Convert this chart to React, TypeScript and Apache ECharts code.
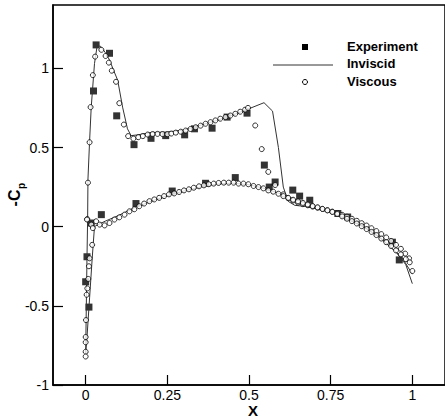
import React, { useEffect, useRef } from "react";
import * as echarts from "echarts";

const xTicks = [0, 0.25, 0.5, 0.75, 1];
const yTicks = [-1, -0.5, 0, 0.5, 1];

// Inviscid solution, traced lower surface TE -> LE, then upper surface LE -> TE
const inviscidLower: [number, number][] = [
  [1.0, -0.3], [0.97, -0.2], [0.95, -0.16], [0.9, -0.065], [0.85, 0.0], [0.8, 0.05],
  [0.75, 0.095], [0.7, 0.13], [0.65, 0.165], [0.6, 0.205], [0.55, 0.24], [0.5, 0.265],
  [0.45, 0.275], [0.4, 0.268], [0.35, 0.25], [0.3, 0.225], [0.25, 0.195], [0.2, 0.16],
  [0.15, 0.12], [0.1, 0.07], [0.06, 0.035], [0.035, 0.01], [0.027, 0.0], [0.02, -0.2],
  [0.012, -0.45], [0.004, -0.7], [0.0, -0.8],
];
const inviscidUpper: [number, number][] = [
  [0.0, -0.8], [0.002, -0.5], [0.004, -0.2], [0.006, 0.05], [0.007, 0.3], [0.012, 0.54],
  [0.017, 0.755], [0.027, 1.03], [0.035, 1.14], [0.045, 1.14], [0.06, 1.1], [0.073, 1.053],
  [0.085, 0.99], [0.098, 0.925], [0.113, 0.755], [0.128, 0.618], [0.139, 0.575],
  [0.16, 0.58], [0.2, 0.595], [0.25, 0.598], [0.3, 0.61], [0.35, 0.64], [0.4, 0.67],
  [0.45, 0.705], [0.5, 0.745], [0.546, 0.783], [0.572, 0.73], [0.59, 0.5], [0.605, 0.25],
  [0.62, 0.16], [0.64, 0.135], [0.67, 0.128], [0.7, 0.115], [0.75, 0.09], [0.8, 0.05],
  [0.85, 0.0], [0.9, -0.07], [0.95, -0.16], [0.98, -0.24], [1.0, -0.36],
];

// Viscous solution (circles)
const viscousLeadingEdge: [number, number][] = [
  [0.005, 0.048], [0.017, 0.013], [0.022, -0.009], [0.02, -0.115], [0.012, -0.2],
  [0.01, -0.25], [0.008, -0.33], [0.005, -0.39], [0.003, -0.43], [0.001, -0.59],
  [0.0, -0.697], [0.0, -0.73], [0.0, -0.79], [0.0, -0.82],
];
const viscousUpper: [number, number][] = [
  [0.004, 0.045], [0.007, 0.278], [0.012, 0.533], [0.015, 0.755], [0.022, 0.957],
  [0.029, 1.074], [0.048, 1.117], [0.061, 1.078], [0.071, 1.036], [0.08, 0.985],
  [0.093, 0.915], [0.103, 0.78], [0.117, 0.645], [0.13, 0.572], [0.146, 0.556],
  [0.161, 0.565], [0.175, 0.572], [0.19, 0.582], [0.205, 0.585], [0.22, 0.586],
  [0.235, 0.585], [0.25, 0.584], [0.262, 0.588], [0.276, 0.594], [0.291, 0.6],
  [0.306, 0.607], [0.321, 0.617], [0.337, 0.628], [0.352, 0.638], [0.367, 0.65],
  [0.382, 0.66], [0.397, 0.671], [0.412, 0.682], [0.428, 0.692], [0.443, 0.702],
  [0.458, 0.713], [0.473, 0.726], [0.488, 0.739], [0.497, 0.75], [0.519, 0.639],
  [0.539, 0.49], [0.559, 0.346], [0.58, 0.263], [0.605, 0.204], [0.62, 0.18],
  [0.635, 0.165], [0.65, 0.152], [0.665, 0.142], [0.68, 0.135], [0.695, 0.127],
  [0.71, 0.12], [0.725, 0.112], [0.74, 0.104], [0.755, 0.095], [0.77, 0.086],
  [0.785, 0.075], [0.8, 0.063], [0.815, 0.05], [0.83, 0.037], [0.845, 0.022],
  [0.86, 0.007], [0.875, -0.01], [0.89, -0.028], [0.905, -0.047], [0.92, -0.068],
  [0.935, -0.09], [0.95, -0.115], [0.965, -0.14], [0.978, -0.17], [0.99, -0.2],
];
const viscousLower: [number, number][] = [
  [0.032, 0.034], [0.043, 0.013], [0.058, 0.008], [0.073, 0.023], [0.088, 0.045],
  [0.103, 0.059], [0.119, 0.076], [0.134, 0.097], [0.149, 0.11], [0.164, 0.129],
  [0.179, 0.146], [0.195, 0.161], [0.21, 0.172], [0.225, 0.182], [0.24, 0.193],
  [0.255, 0.204], [0.271, 0.21], [0.286, 0.219], [0.301, 0.229], [0.316, 0.236],
  [0.331, 0.246], [0.347, 0.255], [0.362, 0.261], [0.377, 0.268], [0.392, 0.272],
  [0.407, 0.276], [0.423, 0.278], [0.438, 0.278], [0.453, 0.278], [0.468, 0.272],
  [0.483, 0.272], [0.498, 0.268], [0.514, 0.257], [0.529, 0.25], [0.544, 0.242],
  [0.559, 0.229], [0.574, 0.221], [0.59, 0.208], [0.605, 0.193], [0.62, 0.182],
  [0.635, 0.17], [0.65, 0.16], [0.665, 0.15], [0.68, 0.14], [0.695, 0.13],
  [0.71, 0.122], [0.725, 0.112], [0.74, 0.103], [0.755, 0.093], [0.77, 0.08],
  [0.785, 0.065], [0.8, 0.05], [0.815, 0.035], [0.83, 0.02], [0.845, 0.003],
  [0.86, -0.015], [0.875, -0.033], [0.89, -0.053], [0.905, -0.075], [0.92, -0.098],
  [0.935, -0.122], [0.95, -0.15], [0.965, -0.175], [0.98, -0.205], [0.992, -0.225],
  [1.0, -0.28],
];

// Experiment (filled squares)
const experiment: [number, number][] = [
  [0.032, 1.148], [0.073, 1.095], [0.024, 0.857], [0.095, 0.7], [0.148, 0.518],
  [0.2, 0.558], [0.245, 0.575], [0.303, 0.58], [0.333, 0.618], [0.387, 0.622],
  [0.433, 0.692], [0.494, 0.717], [0.547, 0.389], [0.562, 0.25], [0.58, 0.282],
  [0.634, 0.231], [0.655, 0.193], [0.686, 0.167], [0.772, 0.083], [0.802, 0.061],
  [0.939, -0.098], [0.96, -0.21], [0.048, 0.076], [0.154, 0.146], [0.265, 0.225],
  [0.367, 0.274], [0.458, 0.31], [0.017, 0.023], [0.004, -0.19], [0.0, -0.348],
  [0.01, -0.508],
];

const FONT = "'Liberation Sans', Arial, sans-serif";

export default function App() {
  const ref = useRef<HTMLDivElement>(null);
  useEffect(() => {
    if (!ref.current) return;
    const chart = echarts.init(ref.current, null, { renderer: "svg" });
    chart.setOption({
      animation: false,
      backgroundColor: "#fff",
      grid: {
        left: 53,
        top: 5,
        width: 395,
        height: 380,
        show: true,
        borderColor: "#000",
        borderWidth: 1.5,
      },
      xAxis: {
        type: "value",
        min: -0.1,
        max: 1.1,
        axisLine: { onZero: false, lineStyle: { color: "#000", width: 1.5 } },
        axisTick: { inside: true, length: 10, customValues: xTicks, lineStyle: { color: "#000", width: 1.2 } },
        axisLabel: {
          customValues: xTicks,
          color: "#000",
          fontSize: 14,
          fontFamily: FONT,
          margin: 3,
          formatter: (v: number) => String(v),
        },
        splitLine: { show: false },
      },
      yAxis: {
        type: "value",
        min: -1,
        max: 1.4,
        axisLine: { onZero: false, lineStyle: { color: "#000", width: 1.5 } },
        axisTick: { inside: true, length: 10, customValues: yTicks, lineStyle: { color: "#000", width: 1.2 } },
        axisLabel: {
          customValues: yTicks,
          color: "#000",
          fontSize: 14,
          fontFamily: FONT,
          margin: 4,
          formatter: (v: number) => String(v),
        },
        splitLine: { show: false },
      },
      series: [
        {
          name: "Experiment",
          type: "scatter",
          data: experiment,
          symbol: "rect",
          symbolSize: 7,
          itemStyle: { color: "#000" },
          z: 2,
        },
        {
          name: "Inviscid",
          type: "line",
          data: [...inviscidLower, ...inviscidUpper],
          showSymbol: false,
          symbol: "none",
          lineStyle: { color: "#333", width: 1 },
          z: 3,
        },
        {
          name: "Viscous",
          type: "scatter",
          data: [...viscousLeadingEdge, ...viscousUpper, ...viscousLower],
          symbol: "circle",
          symbolSize: 5,
          itemStyle: { color: "#fff", borderColor: "#000", borderWidth: 1 },
          z: 4,
        },
      ],
      graphic: [
        { type: "rect", shape: { x: 302, y: 44, width: 6, height: 6 }, style: { fill: "#000" } },
        { type: "line", shape: { x1: 273, y1: 65, x2: 333, y2: 65 }, style: { stroke: "#333", lineWidth: 1 } },
        { type: "circle", shape: { cx: 305, cy: 82, r: 2.5 }, style: { fill: "#fff", stroke: "#000", lineWidth: 1 } },
        { type: "text", x: 347, y: 46, style: { text: "Experiment", fill: "#000", font: `bold 13px ${FONT}`, textVerticalAlign: "middle" } },
        { type: "text", x: 347, y: 63, style: { text: "Inviscid", fill: "#000", font: `bold 13px ${FONT}`, textVerticalAlign: "middle" } },
        { type: "text", x: 347, y: 81, style: { text: "Viscous", fill: "#000", font: `bold 13px ${FONT}`, textVerticalAlign: "middle" } },
        {
          type: "group",
          x: 14,
          y: 198,
          rotation: Math.PI / 2,
          children: [
            { type: "text", x: 0, y: 0, style: { text: "-C", fill: "#000", font: `bold 16px ${FONT}`, textAlign: "center", textVerticalAlign: "middle" } },
            { type: "text", x: 9, y: 7, style: { text: "p", fill: "#000", font: `bold 10px ${FONT}`, textAlign: "left", textVerticalAlign: "middle" } },
          ],
        },
        { type: "text", x: 253, y: 410, style: { text: "X", fill: "#000", font: `bold 15px ${FONT}`, textAlign: "center", textVerticalAlign: "middle" } },
      ],
    });
    return () => chart.dispose();
  }, []);
  return (
    <div
      ref={ref}
      style={{ position: "absolute", left: 0, top: 0, width: 445, height: 420, background: "#fff" }}
    />
  );
}
